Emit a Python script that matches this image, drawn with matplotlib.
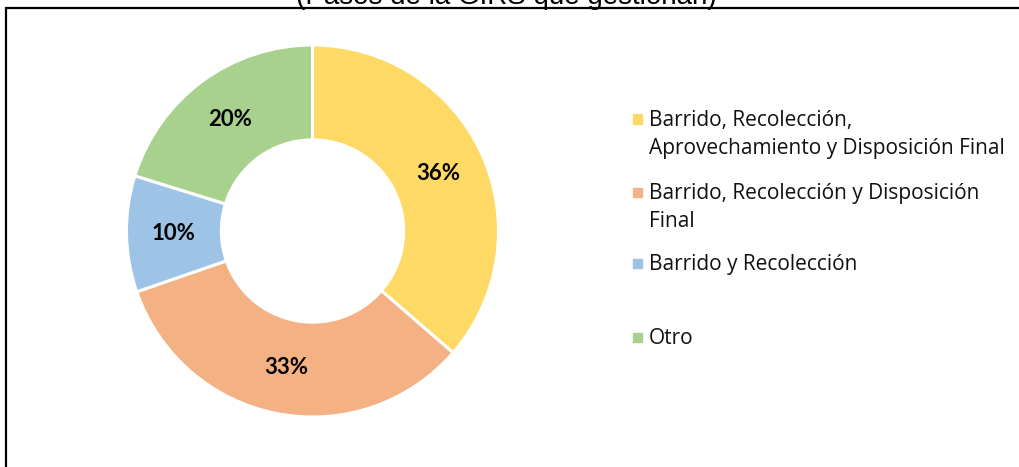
import numpy as np
import matplotlib.pyplot as plt
from matplotlib.patches import Rectangle

# data
categories = ["Barrido, Recolección,\nAprovechamiento y Disposición Final",
              "Barrido, Recolección y Disposición\nFinal",
              "Barrido y Recolección",
              "Otro"]
values = [36, 33, 10, 20]
colors = ["#FFD966", "#F4B183", "#9DC3E6", "#A9D18E"]
title = "(Pasos de la GIRS que gestionan)"

W, H = 1020, 467
fig = plt.figure(figsize=(W / 100, H / 100), dpi=100)

# pie axes placed so the center is at (312.5, 231) px with r = 186 px
cx, cy, r = 312.5, 231, 186
ax = fig.add_axes([(cx - r) / W, 1 - (cy + r) / H, 2 * r / W, 2 * r / H])
wedges, _ = ax.pie(values, colors=colors, startangle=90, counterclock=False,
                   radius=1.0,
                   wedgeprops=dict(width=0.51, edgecolor="white", linewidth=2.2))
ax.set_xlim(-1, 1)
ax.set_ylim(-1, 1)
ax.set_aspect("equal")
ax.axis("off")

# percent labels at the middle of the ring
total = sum(values)
ang = 90.0
for v in values:
    mid = ang - 360.0 * v / total / 2
    ang -= 360.0 * v / total
    rr = 0.745
    ax.text(rr * np.cos(np.radians(mid)), rr * np.sin(np.radians(mid)),
            f"{v}%", ha="center", va="center", fontsize=16,
            fontweight="bold", family="Lato", color="black")

# legend drawn by hand, like the excel one
first_line_y = [119, 192, 263, 337]
for cat, col, y in zip(categories, colors, first_line_y):
    fig.patches.append(Rectangle((633 / W, 1 - (y + 4.5) / H), 9 / W, 9 / H,
                                 transform=fig.transFigure, color=col))
    fig.text(649 / W, 1 - (y - 9) / H, cat, ha="left", va="top",
             fontsize=15, family="Open Sans", linespacing=1.42, color="#111111")

# chart frame (cut off on the right and bottom)
fig.patches.append(Rectangle((6 / W, -0.1), 1.2, 1 - 7.5 / H + 0.1,
                             transform=fig.transFigure, fill=False,
                             edgecolor="black", linewidth=1.6))

# title, mostly cut off at the top like in the source
fig.text(506 / W, 1 - 4 / H, title, ha="center", va="baseline",
         fontsize=20, family="Liberation Sans", color="black")

fig.savefig("out.png", dpi=100)
